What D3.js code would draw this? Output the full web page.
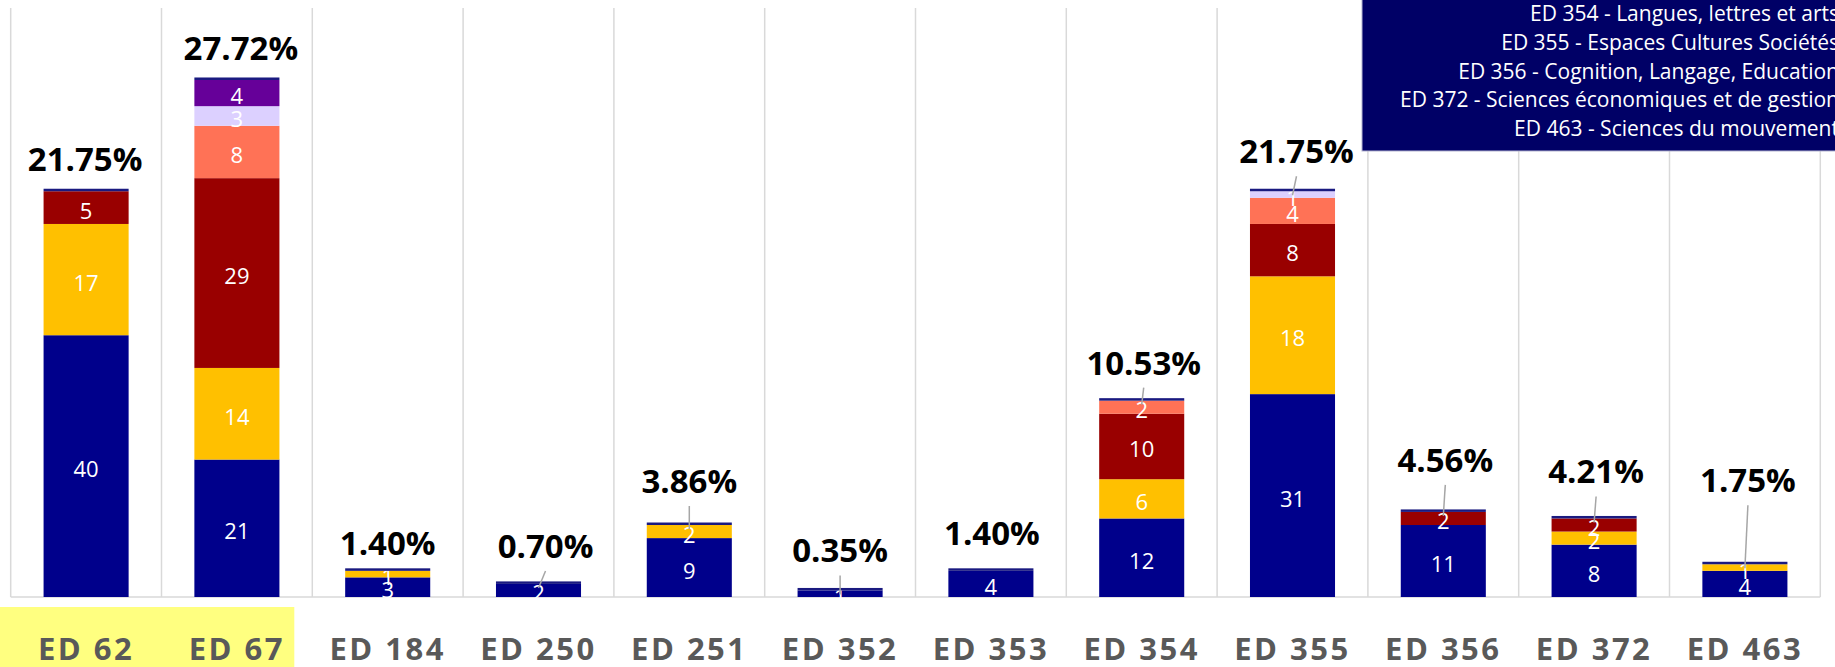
<!DOCTYPE html>
<html>
<head>
<meta charset="utf-8">
<script src="https://cdn.jsdelivr.net/npm/d3@7"></script>
<style>
  body { margin: 0; background: #fff; }
  svg { display: block; font-family: "Open Sans", sans-serif; }
</style>
</head>
<body>
<svg id="chart" width="1835" height="667"></svg>
<script>
// doctoral schools on the x axis
var categories = ["ED 62", "ED 67", "ED 184", "ED 250", "ED 251", "ED 352",
                  "ED 353", "ED 354", "ED 355", "ED 356", "ED 372", "ED 463"];

// stacked series, bottom to top
var navyVals     = [40, 21, 3, 2, 9, 1, 4, 12, 31, 11, 8, 4];
var yellowVals   = [17, 14, 1, 0, 2, 0, 0, 6, 18, 0, 2, 1];
var darkRedVals  = [5, 29, 0, 0, 0, 0, 0, 10, 8, 2, 2, 0];
var salmonVals   = [0, 8, 0, 0, 0, 0, 0, 2, 4, 0, 0, 0];
var lavenderVals = [0, 3, 0, 0, 0, 0, 0, 0, 1, 0, 0, 0];
var purpleVals   = [0, 4, 0, 0, 0, 0, 0, 0, 0, 0, 0, 0];

var legendLabels = [
    "ED 354 - Langues, lettres et arts",
    "ED 355 - Espaces Cultures Sociétés",
    "ED 356 - Cognition, Langage, Education",
    "ED 372 - Sciences économiques et de gestion",
    "ED 463 - Sciences du mouvement"
];

// layout of the hand-placed percentage labels (px above bar top, px sideways)
var labelLift  = [20, 20, 16, 26, 32, 28, 26, 26, 28, 40, 35, 72];
var labelShift = [-1, 4, 0, 7, 0, 0, 1, 2, 4, 2, 2, 3];
var hasLeader  = [false, false, false, true, true, true, false, true, true, true, true, true];

var seriesColors = ["#00008B", "#FFC000", "#990000", "#FF7256", "#DCD0FF", "#660099"];
var seriesVals = [navyVals, yellowVals, darkRedVals, salmonVals, lavenderVals, purpleVals];

var rows = categories.map(function(c, i) {
    var r = { cat: c };
    seriesVals.forEach(function(s, k) { r["s" + k] = s[i]; });
    return r;
});
var keys = seriesVals.map(function(d, k) { return "s" + k; });
var totals = categories.map(function(c, i) {
    return d3.sum(seriesVals, function(s) { return s[i]; });
});
var grand = d3.sum(totals);

var svg = d3.select("#chart");
var baseY = 597, topY = 8;

var x = d3.scaleBand().domain(categories).range([10.7, 1820.3])
    .paddingInner(0.436).paddingOuter(0.218);
var y = d3.scaleLinear().domain([0, 90]).range([baseY, topY]);

// yellow highlight behind the first two labels
svg.append("rect")
    .attr("x", 0).attr("y", 607)
    .attr("width", x.range()[0] + x.step() * 2 - 18).attr("height", 60)
    .attr("fill", "#FFFF80");

// vertical separators + baseline
var bounds = d3.range(categories.length + 1).map(function(i) { return x.range()[0] + i * x.step(); });
svg.append("g").selectAll("line").data(bounds).join("line")
    .attr("x1", function(d) { return d; }).attr("x2", function(d) { return d; })
    .attr("y1", topY).attr("y2", baseY)
    .attr("stroke", "#D9D9D9").attr("stroke-width", 1.5);
svg.append("line")
    .attr("x1", bounds[0]).attr("x2", bounds[bounds.length - 1])
    .attr("y1", baseY).attr("y2", baseY)
    .attr("stroke", "#D9D9D9").attr("stroke-width", 1.5);

var stacked = d3.stack().keys(keys)(rows);

var layers = svg.append("g").selectAll("g").data(stacked).join("g")
    .attr("fill", function(d, k) { return seriesColors[k]; });

layers.selectAll("rect").data(function(d) { return d; }).join("rect")
    .attr("x", function(d) { return x(d.data.cat); })
    .attr("width", x.bandwidth())
    .attr("y", function(d) { return y(d[1]); })
    .attr("height", function(d) { return y(d[0]) - y(d[1]); });

// thin navy cap on top of each bar
svg.append("g").selectAll("rect").data(categories).join("rect")
    .attr("x", function(d) { return x(d); })
    .attr("width", x.bandwidth())
    .attr("y", function(d, i) { return y(totals[i]) - 2.5; })
    .attr("height", 2.5)
    .attr("fill", "#1a1a80");

// segment value labels
layers.selectAll("text").data(function(d) { return d.filter(function(e) { return e[1] - e[0] > 0; }); })
    .join("text")
    .attr("x", function(d) { return x(d.data.cat) + x.bandwidth() / 2; })
    .attr("y", function(d) { return (y(d[0]) + y(d[1])) / 2 + 2; })
    .attr("text-anchor", "middle")
    .attr("dominant-baseline", "central")
    .attr("fill", "#fff")
    .attr("font-size", 22)
    .text(function(d) { return d[1] - d[0]; });

// leader lines
svg.append("g").selectAll("line")
    .data(categories.filter(function(c, i) { return hasLeader[i]; }))
    .join("line")
    .attr("x1", function(d) { var i = categories.indexOf(d); return x(d) + x.bandwidth() / 2 + labelShift[i]; })
    .attr("y1", function(d) { var i = categories.indexOf(d); return y(totals[i]) - labelLift[i] + 13; })
    .attr("x2", function(d) { return x(d) + x.bandwidth() / 2; })
    .attr("y2", function(d) { var i = categories.indexOf(d); return y(totals[i]) + 4; })
    .attr("stroke", "#A6A6A6").attr("stroke-width", 1.5);

// percentage labels
svg.append("g").selectAll("text").data(categories).join("text")
    .attr("x", function(d, i) { return x(d) + x.bandwidth() / 2 + labelShift[i]; })
    .attr("y", function(d, i) { return y(totals[i]) - labelLift[i]; })
    .attr("text-anchor", "middle")
    .attr("font-weight", "bold")
    .attr("font-size", 33)
    .attr("fill", "#000")
    .text(function(d, i) { return (totals[i] / grand * 100).toFixed(2) + "%"; });

// category axis labels
svg.append("g").selectAll("text").data(categories).join("text")
    .attr("x", function(d) { return x(d) + x.bandwidth() / 2; })
    .attr("y", 660)
    .attr("text-anchor", "middle")
    .attr("font-weight", "bold")
    .attr("font-size", 31)
    .attr("letter-spacing", 2.5)
    .attr("fill", "#595959")
    .text(function(d) { return d; });

// legend box (clipped at the top-right like the original)
var legend = svg.append("g");
legend.append("rect")
    .attr("x", 1362).attr("y", -2)
    .attr("width", 480).attr("height", 153)
    .attr("fill", "#000066")
    .attr("stroke", "#B4B4D0").attr("stroke-width", 1);
legend.selectAll("text").data(legendLabels).join("text")
    .attr("x", 1839)
    .attr("y", function(d, i) { return 21 + i * 28.8; })
    .attr("text-anchor", "end")
    .attr("fill", "#fff")
    .attr("font-size", 21)
    .text(function(d) { return d; });
</script>
</body>
</html>
